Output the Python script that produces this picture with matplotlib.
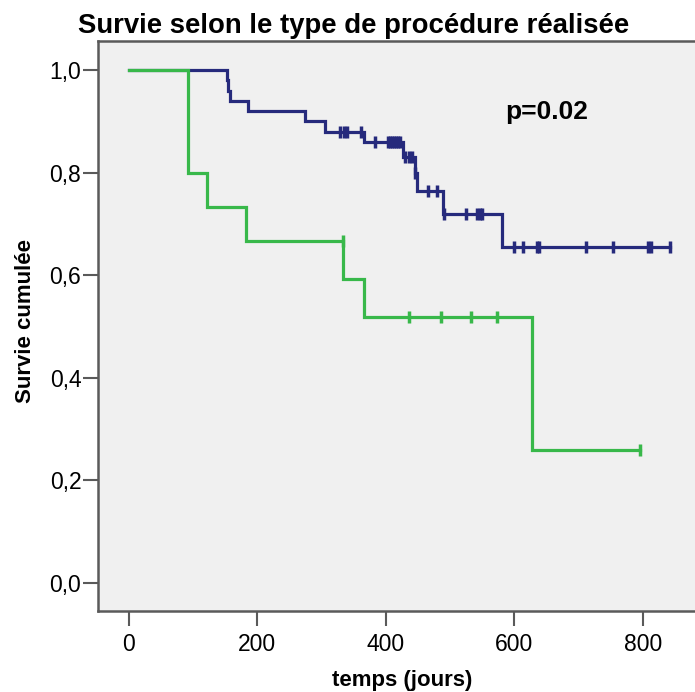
import matplotlib
matplotlib.use("Agg")
import matplotlib.pyplot as plt
from matplotlib.ticker import FuncFormatter
import numpy as np

# Kaplan-Meier steps (days, cumulative survival)
blue_times = [0, 152, 155, 158, 185, 274, 305, 366, 427, 445, 448, 489, 580, 842]
blue_surv = [1.0, 0.98, 0.96, 0.94, 0.92, 0.90, 0.88, 0.86, 0.83, 0.80, 0.765, 0.72, 0.655, 0.655]
blue_censored = [328, 335, 339, 362, 383, 404, 407, 410, 413, 416, 419, 422,
                 429, 436, 441, 446, 466, 479, 491, 525, 541, 546, 550,
                 599, 614, 635, 639, 712, 754, 808, 813, 842]

green_times = [0, 92, 121, 183, 334, 366, 628, 795]
green_surv = [1.0, 0.80, 0.733, 0.667, 0.593, 0.519, 0.259, 0.259]
green_censored = [333, 436, 485, 532, 573, 795]

x_ticks = [0, 200, 400, 600, 800]
y_ticks = [0.0, 0.2, 0.4, 0.6, 0.8, 1.0]

blue = "#262a7c"
green = "#38b84a"
font = ["Liberation Sans", "DejaVu Sans"]


def level_at(times, surv, t):
    # survival level of the step curve at time t
    idx = np.searchsorted(times, t, side="right") - 1
    return surv[idx]


fig = plt.figure(figsize=(6.95, 6.92), dpi=100)
ax = fig.add_axes([98 / 695, 81 / 692, 1 - 98 / 695, 570 / 692])
ax.set_facecolor("#f0f0f0")

ax.step(blue_times, blue_surv, where="post", color=blue, lw=2.3, zorder=2,
        solid_joinstyle="miter")
ax.plot(blue_censored, [level_at(blue_times, blue_surv, t) for t in blue_censored],
        ls="none", marker="|", ms=9, mew=2.5, color=blue, zorder=2)

ax.step(green_times, green_surv, where="post", color=green, lw=2.3, zorder=3,
        solid_joinstyle="miter")
ax.plot(green_censored, [level_at(green_times, green_surv, t) for t in green_censored],
        ls="none", marker="|", ms=9, mew=2.5, color=green, zorder=3)

ax.set_xlim(-48, 881)
ax.set_ylim(-0.0546, 1.0565)
ax.set_xticks(x_ticks)
ax.set_yticks(y_ticks)
ax.yaxis.set_major_formatter(FuncFormatter(lambda v, p: ("%.1f" % v).replace(".", ",")))

ax.spines["right"].set_visible(False)
for s in ["left", "bottom", "top"]:
    ax.spines[s].set_color("#5a5a5a")
    ax.spines[s].set_linewidth(1.8)
ax.tick_params(length=10.5, width=1.5, color="#5a5a5a")
ax.tick_params(axis="x", pad=5)
ax.tick_params(axis="y", pad=1.5)
for lab in ax.get_xticklabels() + ax.get_yticklabels():
    lab.set_family(font)
    lab.set_fontsize(16.5)

ax.text(585, 0.918, "p=0.02", fontsize=19, fontweight="bold", family=font,
        ha="left", va="center")

fig.text(0.509, 0.952, "Survie selon le type de procédure réalisée", fontsize=19.8,
         fontweight="bold", family=font, ha="center", va="baseline")
fig.text(0.036, 0.536, "Survie cumulée", fontsize=16, fontweight="bold", family=font,
         rotation=90, ha="center", va="center")
fig.text(0.578, 0.008, "temps (jours)", fontsize=16, fontweight="bold", family=font,
         ha="center", va="baseline")

fig.savefig("out.png", dpi=100)
